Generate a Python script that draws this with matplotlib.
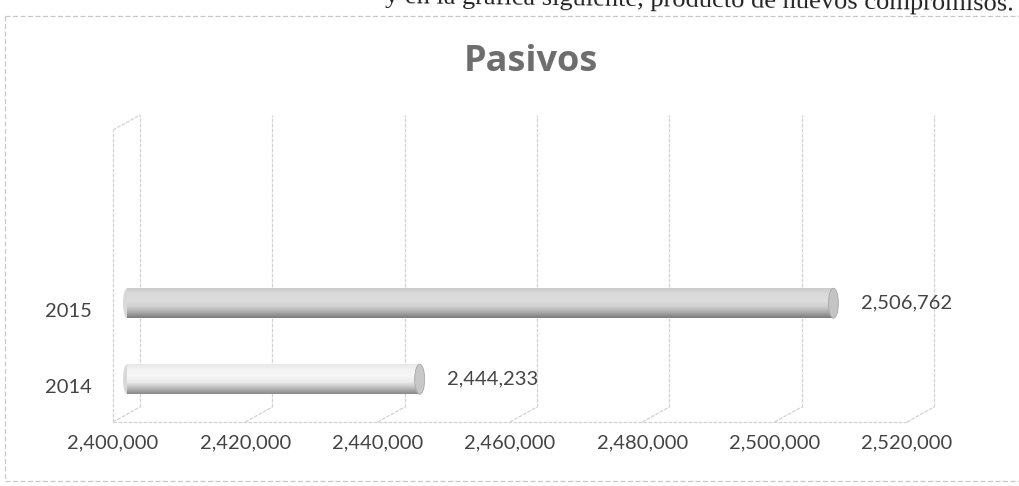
import matplotlib
matplotlib.use("Agg")
import matplotlib.pyplot as plt
import numpy as np
from matplotlib.transforms import ScaledTranslation
from matplotlib.patches import Ellipse
from matplotlib.colors import LinearSegmentedColormap

# ---- data ----
categories = ["2014", "2015"]
values = [2444233, 2506762]
value_labels = ["2,444,233", "2,506,762"]
xticks = [2400000, 2420000, 2440000, 2460000, 2480000, 2500000, 2520000]
xtick_labels = ["2,400,000", "2,420,000", "2,440,000", "2,460,000",
                "2,480,000", "2,500,000", "2,520,000"]
title = "Pasivos"
top_text = "y en la gráfica siguiente, producto de nuevos compromisos."

W, H = 1019, 486
fig = plt.figure(figsize=(W / 100, H / 100), dpi=100)
fig.patch.set_facecolor("white")

# plot area (front plane) in pixels
L, R, B, T = 113, 907, 422, 130
ax = fig.add_axes([L / W, 1 - B / H, (R - L) / W, (B - T) / H])
XMIN, XMAX = 2400000, 2520000
YMIN, YMAX = -0.47, 3.37
ax.set_xlim(XMIN, XMAX)
ax.set_ylim(YMIN, YMAX)
ax.patch.set_alpha(0)
for s in ax.spines.values():
    s.set_visible(False)

xu = (XMAX - XMIN) / (R - L)        # data units per pixel (x)
yu = (YMAX - YMIN) / (B - T)        # data units per pixel (y)

grid_c = "#d2d2d2"
gls = (0, (3, 1))
# back-wall offset (depth)
bdx, bdy = 27 * xu, 15 * yu
ylo, yhi = YMIN, YMAX

# back wall vertical gridlines
for t in xticks:
    ax.plot([t + bdx, t + bdx], [ylo + bdy, yhi + bdy], color=grid_c, lw=0.9,
            ls=gls, clip_on=False, zorder=1)
    # floor diagonals
    ax.plot([t, t + bdx], [ylo, ylo + bdy], color=grid_c, lw=0.9,
            ls=gls, clip_on=False, zorder=1)
# left wall
ax.plot([XMIN, XMIN], [ylo, yhi], color=grid_c, lw=0.9, ls=gls,
        clip_on=False, zorder=1)
ax.plot([XMIN, XMIN + bdx], [yhi, yhi + bdy], color=grid_c, lw=0.9, ls=gls,
        clip_on=False, zorder=1)
# floor front line
ax.plot([XMIN, XMAX], [ylo, ylo], color=grid_c, lw=0.9, ls=gls,
        clip_on=False, zorder=1)

# bars (cylinders) at mid depth
mid = ax.transData + ScaledTranslation(14 / 100, 7 / 100, fig.dpi_scale_trans)
bar_h = 30 * yu
cmaps = [
    LinearSegmentedColormap.from_list("c14", ["#8a8a8a", "#bdbdbd", "#ececec",
                                              "#f6f6f6", "#f4f4f4", "#e8e8e8"]),
    LinearSegmentedColormap.from_list("c15", ["#7c7c7c", "#adadad", "#d2d2d2",
                                              "#dddddd", "#dadada", "#cccccc"]),
]
cap_colors = ["#c8c8c8", "#c4c4c4"]
ypos = np.arange(len(categories))
bars = ax.barh(ypos, [v - XMIN for v in values], left=XMIN, height=bar_h,
               color="none", edgecolor="none", transform=mid, zorder=3)
grad = np.linspace(0, 1, 64).reshape(-1, 1)
for i, (rect, v) in enumerate(zip(bars, values)):
    y0 = ypos[i] - bar_h / 2
    y1 = ypos[i] + bar_h / 2
    im = ax.imshow(grad, extent=[XMIN, v, y0, y1], origin="lower",
                   aspect="auto", cmap=cmaps[i], transform=mid, zorder=3,
                   interpolation="bilinear")
    im.set_clip_path(rect)
    # left rounded start
    ax.add_patch(Ellipse((XMIN, ypos[i]), 8 * xu, bar_h, transform=mid,
                         facecolor="#d9d9d9", edgecolor="none", zorder=2))
    # end cap
    ax.add_patch(Ellipse((v, ypos[i]), 10 * xu, bar_h, transform=mid,
                         facecolor=cap_colors[i], edgecolor="#a8a8a8",
                         lw=0.6, zorder=4))
    ax.annotate(value_labels[i], xy=(v, ypos[i]), xycoords=mid,
                xytext=(20, 0), textcoords="offset points",
                ha="left", va="center", fontsize=14.5, family="Lato",
                color="#444444", zorder=5)

ax.set_xlim(XMIN, XMAX)
ax.set_ylim(YMIN, YMAX)

ax.set_xticks(xticks)
ax.set_xticklabels(xtick_labels, family="Lato", fontsize=14.5, color="#444444")
ax.set_yticks(ypos)
ax.set_yticklabels(categories, family="Lato", fontsize=14.5, color="#444444")
ax.tick_params(axis="x", length=0, pad=9)
ax.tick_params(axis="y", length=0, pad=15)

# title
fig.text(531 / W, 1 - 62 / H, title, ha="center", va="center",
         fontsize=26, fontweight="bold", family="Open Sans", color="#6e6e6e")

# chart frame (dashed, light)
frame_c = "#c8c8c8"
fig.add_artist(plt.Line2D([5 / W, 1.0], [1 - 16 / H, 1 - 16 / H],
                          color=frame_c, lw=0.9, ls=(0, (4, 2))))
fig.add_artist(plt.Line2D([5 / W, 5 / W], [1 - 16 / H, 1 - 481 / H],
                          color=frame_c, lw=0.9, ls=(0, (4, 2))))
fig.add_artist(plt.Line2D([5 / W, 1.0], [1 - 481 / H, 1 - 481 / H],
                          color=frame_c, lw=0.9, ls=(0, (4, 2))))

# clipped line of document text above the chart (as in the scanned page)
fig.text(1014 / W, 1 - 11 / H, top_text, ha="right", va="baseline",
         fontsize=19, family="Liberation Serif", color="#222222",
         rotation=-0.7, rotation_mode="anchor")

fig.savefig("out.png", dpi=100, facecolor="white")
